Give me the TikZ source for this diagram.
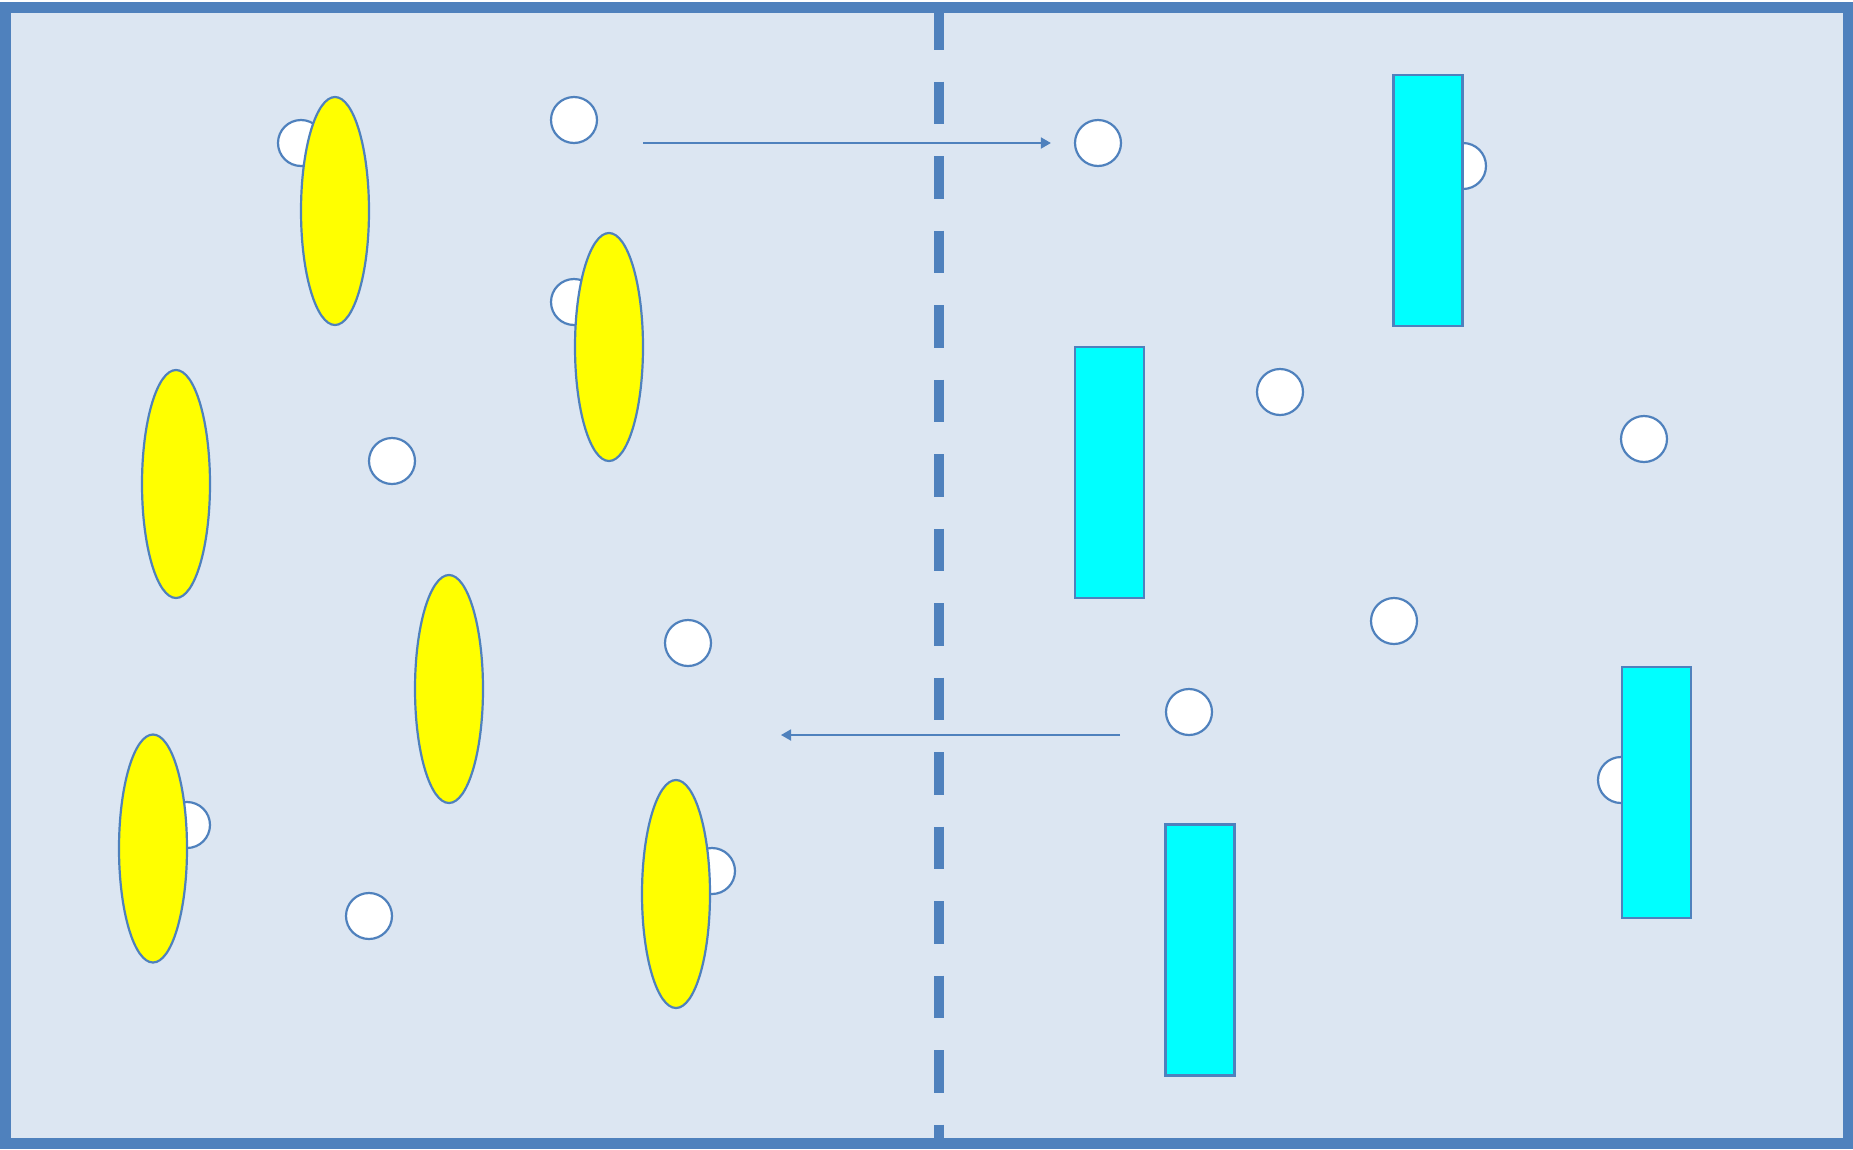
\documentclass[tikz,border=0pt]{standalone}
\usetikzlibrary{shapes.geometric,arrows.meta}
\definecolor{bgblue}{HTML}{DCE6F2}
\definecolor{edgeblue}{HTML}{4F81BD}
\definecolor{yel}{HTML}{FFFF00}
\definecolor{cya}{HTML}{00FFFF}
\begin{document}
\begin{tikzpicture}[x=1pt,y=-1pt,
  dot/.style={circle,draw=edgeblue,fill=white,line width=2.2pt,minimum size=46pt,inner sep=0pt},
  seed/.style={ellipse,draw=edgeblue,fill=yel,line width=2.2pt,minimum width=68pt,minimum height=228pt,inner sep=0pt},
  bar/.style={rectangle,draw=edgeblue,fill=cya,line width=2.2pt,minimum width=69pt,minimum height=251pt,inner sep=0pt},
  flow/.style={draw=edgeblue,line width=1.8pt,-{Triangle[length=10pt,width=11pt]}}]
\useasboundingbox (0,0) rectangle (1853,1149);
\fill[white] (0,0) rectangle (1853,1149);
\node[draw=edgeblue,fill=bgblue,line width=11pt,rectangle,inner sep=0pt,minimum width=1843pt,minimum height=1136.5pt] (frame) at (926.5,575.25) {};
% divider
\coordinate (dtop) at (939,7);
\coordinate (dbot) at (939,1143);
\draw[edgeblue,line width=10pt,dash pattern=on 42.5pt off 32pt] (dtop) -- (dbot);
% circles
\node[dot] (ca) at (301,143) {};
\node[dot] (cb) at (574,120) {};
\node[dot] (cc) at (574,302) {};
\node[dot] (cd) at (392,461) {};
\node[dot] (ce) at (688,643) {};
\node[dot] (cf) at (187,825) {};
\node[dot] (cg) at (369,916) {};
\node[dot] (ch) at (712,871) {};
\node[dot] (ci) at (1098,143) {};
\node[dot] (cj) at (1463,166) {};
\node[dot] (ck) at (1280,392) {};
\node[dot] (cl) at (1644,439) {};
\node[dot] (cm) at (1394,621) {};
\node[dot] (cn) at (1189,712) {};
\node[dot] (co) at (1621,780) {};
% yellow ellipses
\node[seed] (e1) at (335,211) {};
\node[seed] (e2) at (609,347) {};
\node[seed] (e3) at (176,484) {};
\node[seed] (e4) at (449,689) {};
\node[seed] (e5) at (153,848.5) {};
\node[seed] (e6) at (676,894) {};
% cyan bars
\node[bar] (r1) at (1428,200.5) {};
\node[bar] (r2) at (1109.5,472.5) {};
\node[bar] (r3) at (1200,950) {};
\node[bar] (r4) at (1656.5,792.5) {};
% arrows
\coordinate (a1s) at (643,143);
\draw[flow,shorten >=23pt] (a1s) -- (ci.west);
\coordinate (a2s) at (1120,735);
\coordinate (a2e) at (781,735);
\draw[flow] (a2s) -- (a2e);
\end{tikzpicture}
\end{document}
